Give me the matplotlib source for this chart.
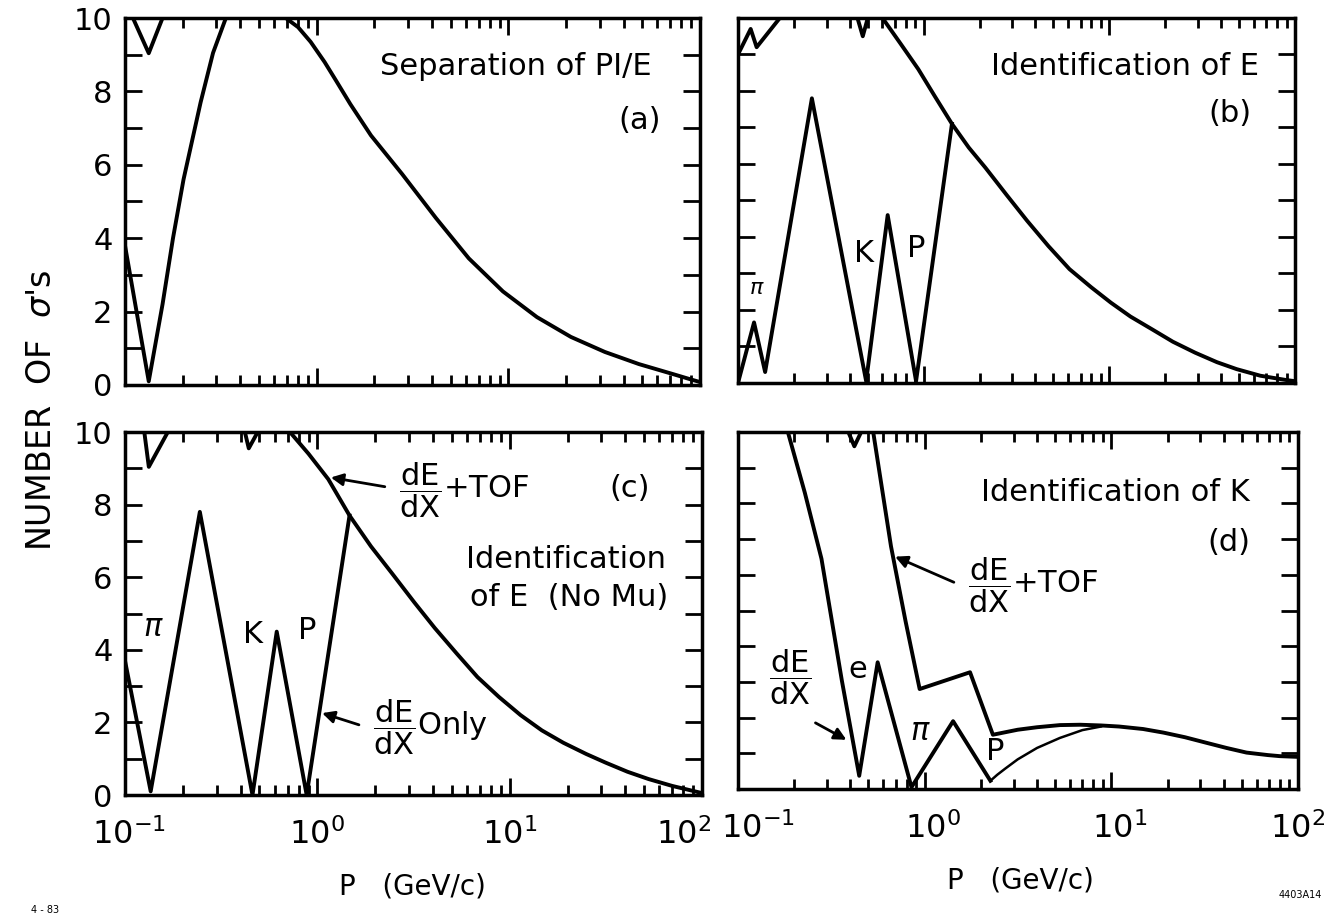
import matplotlib
matplotlib.use('Agg')
import matplotlib.pyplot as plt
from matplotlib.ticker import LogLocator, FixedLocator, FixedFormatter, NullFormatter
from matplotlib.transforms import blended_transform_factory, ScaledTranslation

plt.rcParams['font.family'] = ['DejaVu Sans']
plt.rcParams['mathtext.fontset'] = 'dejavusans'

# ---------------- data ----------------
# (a) Separation of PI/E
a_x_rise = [0.1, 0.133, 0.157, 0.178, 0.202, 0.248, 0.288, 0.336, 0.69]
a_y_rise = [3.8, 0.1, 2.2, 4.0, 5.6, 7.7, 9.05, 10.0, 10.0]
a_x_fall = [0.69, 0.8, 0.93, 1.1, 1.26, 1.5, 1.92, 2.79, 4.19, 6.22, 9.37, 14.1,
            21.2, 31.9, 48, 72, 88.5, 100]
a_y_fall = [10.0, 9.75, 9.35, 8.8, 8.3, 7.65, 6.8, 5.75, 4.55, 3.45, 2.55, 1.85,
            1.31, 0.9, 0.57, 0.3, 0.16, 0.08]
a_x_v = [0.11, 0.133, 0.157]
a_y_v = [10.0, 9.04, 10.0]

# (b) Identification of E
b_x_dedx = [0.1, 0.122, 0.14, 0.25, 0.49, 0.64, 0.91, 1.42]
b_y_dedx = [0.0, 1.66, 0.3, 7.8, 0.05, 4.6, 0.05, 7.1]
b_x_tof = [0.6, 0.75, 0.935, 1.15, 1.42, 1.75, 2.15, 2.8, 3.6, 4.7, 6.1, 8.0,
           10.2, 13, 17, 22, 29, 38, 48.5, 65, 90, 100]
b_y_tof = [10.0, 9.3, 8.6, 7.85, 7.1, 6.45, 5.9, 5.15, 4.45, 3.75, 3.12, 2.62,
           2.2, 1.82, 1.47, 1.13, 0.83, 0.57, 0.38, 0.2, 0.08, 0.05]
b_x_n = [0.1, 0.117, 0.126, 0.168]
b_y_n = [9.0, 9.7, 9.2, 10.0]
b_x_v = [0.44, 0.47, 0.5]
b_y_v = [10.0, 9.5, 10.0]

# (c) Identification of E (No Mu)
c_x_dedx = [0.1, 0.136, 0.245, 0.46, 0.615, 0.88, 1.47]
c_y_dedx = [3.7, 0.1, 7.8, 0.0, 4.5, 0.0, 7.7]
c_x_tof = [0.72, 0.9, 1.14, 1.47, 1.9, 2.45, 3.2, 4.08, 5.3, 6.8, 8.8, 11.4,
           14.7, 19, 25, 31.6, 41, 52.7, 70, 97, 100]
c_y_tof = [10.0, 9.4, 8.7, 7.7, 6.85, 6.1, 5.3, 4.6, 3.9, 3.25, 2.7, 2.2,
           1.78, 1.44, 1.13, 0.89, 0.64, 0.44, 0.25, 0.07, 0.05]
c_x_v1 = [0.126, 0.133, 0.167]
c_y_v1 = [10.0, 9.04, 10.0]
c_x_v2 = [0.42, 0.44, 0.49]
c_y_v2 = [10.0, 9.55, 10.0]

# (d) Identification of K
d_x_dedx = [0.185, 0.228, 0.28, 0.36, 0.446, 0.56, 0.85, 1.42, 2.25]
d_y_dedx = [10.0, 8.3, 6.45, 3.04, 0.37, 3.55, 0.05, 1.9, 0.23]
d_x_tail = [2.25, 2.45, 2.7, 3.15, 4.0, 5.3, 7.0, 8.8]
d_y_tail = [0.23, 0.4, 0.57, 0.83, 1.15, 1.43, 1.65, 1.75]
d_x_tof = [0.53, 0.66, 0.79, 0.94, 1.75, 2.32, 3.15, 4.0, 5.3, 6.8, 8.8, 11,
           14.8, 19, 24.8, 32, 41.4, 53, 69, 80, 100]
d_y_tof = [10.0, 6.8, 4.7, 2.8, 3.27, 1.52, 1.66, 1.73, 1.79, 1.8, 1.78, 1.75,
           1.68, 1.58, 1.45, 1.3, 1.15, 1.02, 0.95, 0.92, 0.9]
d_x_v = [0.39, 0.42, 0.457]
d_y_v = [10.0, 9.6, 10.0]

y_ticks = list(range(0, 11))
y_ticklabels = ['0', '', '2', '', '4', '', '6', '', '8', '', '10']
x_tick_values = [0.1, 1, 10, 100]
x_tick_labels = [r'$10^{-1}$', r'$10^{0}$', r'$10^{1}$', r'$10^{2}$']

# ---------------- figure ----------------
W, H = 1338, 921
fig = plt.figure(figsize=(W / 100, H / 100), dpi=100)


def add_ax(l, r, t, b):
    return fig.add_axes([l / W, 1 - b / H, (r - l) / W, (b - t) / H])


axa = add_ax(125, 700, 18, 385)
axb = add_ax(738, 1295, 18, 383)
axc = add_ax(125, 702, 432, 795)
axd = add_ax(738, 1298, 432, 789)

LW = 2.8
FS = 22

for ax, left in [(axa, True), (axb, False), (axc, True), (axd, False)]:
    ax.set_xscale('log')
    ax.set_xlim(0.1, 100)
    ax.set_ylim(0, 10)
    ax.yaxis.set_major_locator(FixedLocator(y_ticks))
    ax.yaxis.set_major_formatter(FixedFormatter(y_ticklabels))
    ax.xaxis.set_major_locator(LogLocator(base=10, numticks=10))
    ax.xaxis.set_minor_locator(LogLocator(base=10, subs=range(2, 10), numticks=10))
    ax.xaxis.set_minor_formatter(NullFormatter())
    ax.tick_params(which='both', direction='in', top=True, right=True,
                   width=2, color='black')
    ax.tick_params(axis='y', which='major', length=12, labelsize=FS, pad=9,
                   labelleft=left)
    ax.tick_params(axis='x', which='major', length=12, labelbottom=False)
    ax.tick_params(axis='x', which='minor', length=7)
    for s in ax.spines.values():
        s.set_linewidth(2.5)

# manual x tick labels on the bottom row (slightly nudged as in the original)
for ax, nudges in [(axc, [4, 0, 0, -18]), (axd, [20, 8, 8, 0])]:
    trans = blended_transform_factory(ax.transData, ax.transAxes)
    for v, lab, dx in zip(x_tick_values, x_tick_labels, nudges):
        ax.text(v, -0.11, lab, fontsize=FS + 1, ha='center', va='center',
                transform=trans + ScaledTranslation(dx / 100, 0, fig.dpi_scale_trans))

# (a)
axa.plot(a_x_rise, a_y_rise, color='black', lw=LW)
axa.plot(a_x_fall, a_y_fall, color='black', lw=LW)
axa.plot(a_x_v, a_y_v, color='black', lw=LW)
axa.text(0.915, 0.868, 'Separation of PI/E', transform=axa.transAxes,
         ha='right', va='center', fontsize=FS)
axa.text(0.895, 0.721, '(a)', transform=axa.transAxes,
         ha='center', va='center', fontsize=FS)

# (b)
axb.plot(b_x_dedx, b_y_dedx, color='black', lw=LW)
axb.plot(b_x_tof, b_y_tof, color='black', lw=LW)
axb.plot(b_x_n, b_y_n, color='black', lw=LW)
axb.plot(b_x_v, b_y_v, color='black', lw=LW)
axb.text(0.935, 0.866, 'Identification of E', transform=axb.transAxes,
         ha='right', va='center', fontsize=FS)
axb.text(0.883, 0.737, '(b)', transform=axb.transAxes,
         ha='center', va='center', fontsize=FS)
axb.text(0.034, 0.26, r'$\pi$', transform=axb.transAxes,
         ha='center', va='center', fontsize=FS - 6, fontweight='bold')
axb.text(0.226, 0.355, 'K', transform=axb.transAxes,
         ha='center', va='center', fontsize=FS)
axb.text(0.32, 0.369, 'P', transform=axb.transAxes,
         ha='center', va='center', fontsize=FS)

# (c)
axc.plot(c_x_dedx, c_y_dedx, color='black', lw=LW)
axc.plot(c_x_tof, c_y_tof, color='black', lw=LW)
axc.plot(c_x_v1, c_y_v1, color='black', lw=LW)
axc.plot(c_x_v2, c_y_v2, color='black', lw=LW)
axc.text(0.475, 0.839, r'$\dfrac{\mathrm{dE}}{\mathrm{dX}}$+TOF', transform=axc.transAxes,
         ha='left', va='center', fontsize=FS)
axc.text(0.875, 0.843, '(c)', transform=axc.transAxes,
         ha='center', va='center', fontsize=FS)
axc.text(0.937, 0.648, 'Identification', transform=axc.transAxes,
         ha='right', va='center', fontsize=FS)
axc.text(0.941, 0.545, 'of E  (No Mu)', transform=axc.transAxes,
         ha='right', va='center', fontsize=FS)
axc.text(0.05, 0.461, r'$\pi$', transform=axc.transAxes,
         ha='center', va='center', fontsize=FS)
axc.text(0.222, 0.443, 'K', transform=axc.transAxes,
         ha='center', va='center', fontsize=FS)
axc.text(0.315, 0.452, 'P', transform=axc.transAxes,
         ha='center', va='center', fontsize=FS)
axc.text(0.43, 0.186, r'$\dfrac{\mathrm{dE}}{\mathrm{dX}}$Only', transform=axc.transAxes,
         ha='left', va='center', fontsize=FS)
axc.annotate('', xy=(0.352, 0.876), xytext=(0.455, 0.848), xycoords='axes fraction',
             arrowprops=dict(arrowstyle='-|>', lw=2, color='black', mutation_scale=18))
axc.annotate('', xy=(0.337, 0.228), xytext=(0.41, 0.191), xycoords='axes fraction',
             arrowprops=dict(arrowstyle='-|>', lw=2, color='black', mutation_scale=18))

# (d)
axd.plot(d_x_dedx, d_y_dedx, color='black', lw=LW)
axd.plot(d_x_tail, d_y_tail, color='black', lw=1.8)
axd.plot(d_x_tof, d_y_tof, color='black', lw=LW)
axd.plot(d_x_v, d_y_v, color='black', lw=LW)
axd.text(0.914, 0.83, 'Identification of K', transform=axd.transAxes,
         ha='right', va='center', fontsize=FS)
axd.text(0.877, 0.691, '(d)', transform=axd.transAxes,
         ha='center', va='center', fontsize=FS)
axd.text(0.41, 0.571, r'$\dfrac{\mathrm{dE}}{\mathrm{dX}}$+TOF', transform=axd.transAxes,
         ha='left', va='center', fontsize=FS)
axd.text(0.093, 0.313, r'$\dfrac{\mathrm{dE}}{\mathrm{dX}}$', transform=axd.transAxes,
         ha='center', va='center', fontsize=FS)
axd.text(0.213, 0.336, 'e', transform=axd.transAxes,
         ha='center', va='center', fontsize=FS)
axd.text(0.325, 0.161, r'$\pi$', transform=axd.transAxes,
         ha='center', va='center', fontsize=FS)
axd.text(0.459, 0.106, 'P', transform=axd.transAxes,
         ha='center', va='center', fontsize=FS)
axd.annotate('', xy=(0.276, 0.654), xytext=(0.39, 0.576), xycoords='axes fraction',
             arrowprops=dict(arrowstyle='-|>', lw=2, color='black', mutation_scale=18))
axd.annotate('', xy=(0.198, 0.134), xytext=(0.134, 0.189), xycoords='axes fraction',
             arrowprops=dict(arrowstyle='-|>', lw=2, color='black', mutation_scale=18))

# figure labels
fig.text(42 / W, 1 - 410 / H, r"NUMBER  OF  $\sigma$'s", rotation=90,
         ha='center', va='center', fontsize=FS + 2)
fig.text(412 / W, 1 - 886 / H, 'P   (GeV/c)', ha='center', va='center', fontsize=FS - 2)
fig.text(1020 / W, 1 - 880 / H, 'P   (GeV/c)', ha='center', va='center', fontsize=FS - 2)
fig.text(45 / W, 1 - 910 / H, '4 - 83', ha='center', va='center', fontsize=7)
fig.text(1300 / W, 1 - 895 / H, '4403A14', ha='center', va='center', fontsize=7)

fig.savefig('out.png', dpi=100, facecolor='white')
